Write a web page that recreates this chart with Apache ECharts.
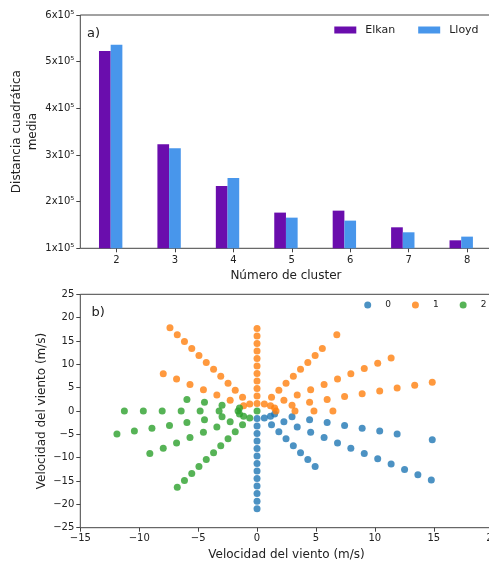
<!DOCTYPE html>
<html>
<head>
<meta charset="utf-8">
<script src="https://cdn.jsdelivr.net/npm/echarts@6/dist/echarts.min.js"></script>
<style>
html,body{margin:0;padding:0;background:#fff;}
#c{width:489px;height:562px;}
</style>
</head>
<body>
<div id="c"></div>
<script>
// ---- Panel a) data ----
const clusters = [2, 3, 4, 5, 6, 7, 8];
const elkan = [522800, 322800, 233500, 176500, 180700, 145000, 117100];
const lloyd = [536500, 314300, 250700, 165700, 159300, 134300, 125000];
const yTicksA = [100000, 200000, 300000, 400000, 500000, 600000];

// ---- Panel b) data (u, v wind components, m/s) ----
const cluster0 = [
  [0,-1.61],[0,-3.22],[0,-4.83],[0,-6.44],[0,-8.05],[0,-9.65],[0,-11.26],[0,-12.87],[0,-14.48],[0,-16.09],[0,-17.70],[0,-19.31],[0,-20.92],
  [0.62,-1.49],[1.23,-2.97],[1.85,-4.46],[2.46,-5.95],[3.08,-7.43],[3.69,-8.92],[4.31,-10.41],[4.93,-11.89],
  [1.14,-1.14],[2.28,-2.28],[3.41,-3.41],[4.55,-4.55],[5.69,-5.69],[6.83,-6.83],[7.96,-7.96],[9.10,-9.10],[10.24,-10.24],[11.38,-11.38],[12.52,-12.52],[13.65,-13.65],[14.79,-14.79],
  [1.49,-0.62],[2.97,-1.23],[4.46,-1.85],[5.95,-2.46],[7.43,-3.08],[8.92,-3.69],[10.41,-4.31],[11.89,-4.93],[14.87,-6.16]
];
const cluster1 = [
  [0,1.61],[0,3.22],[0,4.83],[0,6.44],[0,8.05],[0,9.65],[0,11.26],[0,12.87],[0,14.48],[0,16.09],[0,17.70],
  [-0.62,1.49],[-1.23,2.97],[-1.85,4.46],[-2.46,5.95],[-3.08,7.43],[-3.69,8.92],[-4.31,10.41],[-4.93,11.89],[-5.54,13.38],[-6.16,14.87],[-6.77,16.35],[-7.39,17.84],
  [-1.14,1.14],[-2.28,2.28],[-3.41,3.41],[-4.55,4.55],[-5.69,5.69],[-6.83,6.83],[-7.96,7.96],
  [0.62,1.49],[1.23,2.97],[1.85,4.46],[2.46,5.95],[3.08,7.43],[3.69,8.92],[4.31,10.41],[4.93,11.89],[5.54,13.38],[6.77,16.35],
  [1.14,1.14],[2.28,2.28],[3.41,3.41],[4.55,4.55],[5.69,5.69],[6.83,6.83],[7.96,7.96],[9.10,9.10],[10.24,10.24],[11.38,11.38],
  [1.49,0.62],[2.97,1.23],[4.46,1.85],[5.95,2.46],[7.43,3.08],[8.92,3.69],[10.41,4.31],[11.89,4.93],[13.38,5.54],[14.87,6.16],
  [1.61,0],[3.22,0],[4.83,0],[6.44,0]
];
const cluster2 = [
  [0,0],
  [-1.49,0.62],[-2.97,1.23],[-4.46,1.85],[-5.95,2.46],
  [-1.61,0],[-3.22,0],[-4.83,0],[-6.44,0],[-8.05,0],[-9.65,0],[-11.26,0],
  [-1.49,-0.62],[-2.97,-1.23],[-4.46,-1.85],[-5.95,-2.46],[-7.43,-3.08],[-8.92,-3.69],[-10.41,-4.31],[-11.89,-4.93],
  [-1.14,-1.14],[-2.28,-2.28],[-3.41,-3.41],[-4.55,-4.55],[-5.69,-5.69],[-6.83,-6.83],[-7.96,-7.96],[-9.10,-9.10],
  [-0.62,-1.49],[-1.23,-2.97],[-1.85,-4.46],[-2.46,-5.95],[-3.08,-7.43],[-3.69,-8.92],[-4.31,-10.41],[-4.93,-11.89],[-5.54,-13.38],[-6.16,-14.87],[-6.77,-16.35]
];
const xTicksB = [-15, -10, -5, 0, 5, 10, 15, 20];
const yTicksB = [-25, -20, -15, -10, -5, 0, 5, 10, 15, 20, 25];

const FONT = 'DejaVu Sans';
const TXT = '#222';
const AX = '#444';
const minus = v => String(v).replace('-', '\u2212');
const sci = v => (v / 100000) + 'x10\u2075';

const chart = echarts.init(document.getElementById('c'), null, {renderer: 'canvas'});

const axisCommon = {
  axisLine: {show: false, onZero: false},
  axisTick: {show: true, length: 4, lineStyle: {color: AX, width: 1}},
  splitLine: {show: false},
  nameMoveOverlap: false,
  axisLabel: {color: TXT, fontFamily: FONT, fontSize: 10, margin: 5},
  nameTextStyle: {color: TXT, fontFamily: FONT, fontSize: 12}
};

const option = {
  animation: false,
  backgroundColor: '#fff',
  textStyle: {fontFamily: FONT},
  grid: [
    {left: 80.3, top: 15, width: 411.3, height: 233.3, show: true, borderColor: AX, borderWidth: 1,
     backgroundColor: 'transparent', containLabel: false, outerBoundsMode: 'none'},
    {left: 80.3, top: 294.3, width: 412.4, height: 233.4, show: true, borderColor: AX, borderWidth: 1,
     backgroundColor: 'transparent', containLabel: false, outerBoundsMode: 'none'}
  ],
  xAxis: [
    Object.assign({}, axisCommon, {
      gridIndex: 0, type: 'value', min: 1.38, max: 8.42,
      name: 'Número de cluster', nameLocation: 'middle', nameGap: 21.5,
      axisTick: {show: true, length: 4, lineStyle: {color: AX}, customValues: clusters},
      axisLabel: {color: TXT, fontFamily: FONT, fontSize: 10, margin: 7, customValues: clusters}
    }),
    Object.assign({}, axisCommon, {
      gridIndex: 1, type: 'value', min: xTicksB[0], max: xTicksB[xTicksB.length - 1], interval: 5,
      name: 'Velocidad del viento (m/s)', nameLocation: 'middle', nameGap: 21,
      axisLabel: {color: TXT, fontFamily: FONT, fontSize: 10, margin: 6, formatter: minus, hideOverlap: false}
    })
  ],
  yAxis: [
    Object.assign({}, axisCommon, {
      gridIndex: 0, type: 'value', min: yTicksA[0], max: yTicksA[yTicksA.length - 1], interval: 100000,
      name: 'Distancia cuadrática\nmedia', nameLocation: 'middle', nameGap: 39,
      nameTextStyle: {color: TXT, fontFamily: FONT, fontSize: 12, lineHeight: 16},
      axisLabel: {color: TXT, fontFamily: FONT, fontSize: 10, margin: 6, formatter: sci}
    }),
    Object.assign({}, axisCommon, {
      gridIndex: 1, type: 'value', min: yTicksB[0], max: yTicksB[yTicksB.length - 1], interval: 5,
      name: 'Velocidad del viento (m/s)', nameLocation: 'middle', nameGap: 32,
      axisLabel: {color: TXT, fontFamily: FONT, fontSize: 10, margin: 6, formatter: minus}
    })
  ],
  legend: [
    {
      data: ['Elkan', 'Lloyd'], left: 334.3, top: 24.5, width: 200, padding: 0, icon: 'rect',
      itemWidth: 22, itemHeight: 7, itemGap: 23,
      textStyle: {color: TXT, fontFamily: FONT, fontSize: 11, padding: [0, 0, 0, 4]}
    },
    {
      data: ['0', '1', '2'], left: 364.2, top: 300.5, width: 200, padding: 0, icon: 'circle',
      itemWidth: 7, itemHeight: 7, itemGap: 21,
      textStyle: {color: TXT, fontFamily: FONT, fontSize: 9, padding: [0, 0, 0, 9]}
    }
  ],
  graphic: [
    {type: 'text', left: 87, top: 27, style: {text: 'a)', fill: TXT, font: '13px "DejaVu Sans"'}},
    {type: 'text', left: 91.5, top: 306, style: {text: 'b)', fill: TXT, font: '13px "DejaVu Sans"'}}
  ],
  series: [
    {
      name: 'Elkan', type: 'bar', xAxisIndex: 0, yAxisIndex: 0,
      barWidth: 11.7, barGap: '-100%',
      itemStyle: {color: '#6a0dad'},
      data: elkan.map((v, i) => [clusters[i] - 0.2, v])
    },
    {
      name: 'Lloyd', type: 'bar', xAxisIndex: 0, yAxisIndex: 0,
      barWidth: 11.7, barGap: '-100%',
      itemStyle: {color: '#4896eb'},
      data: lloyd.map((v, i) => [clusters[i], v])
    },
    {
      name: '0', type: 'scatter', xAxisIndex: 1, yAxisIndex: 1, symbolSize: 7,
      itemStyle: {color: '#1f77b4'}, data: cluster0
    },
    {
      name: '1', type: 'scatter', xAxisIndex: 1, yAxisIndex: 1, symbolSize: 7,
      itemStyle: {color: '#ff7f0e'}, data: cluster1
    },
    {
      name: '2', type: 'scatter', xAxisIndex: 1, yAxisIndex: 1, symbolSize: 7,
      itemStyle: {color: '#2ca02c'}, data: cluster2
    }
  ]
};
chart.setOption(option);
</script>
</body>
</html>
